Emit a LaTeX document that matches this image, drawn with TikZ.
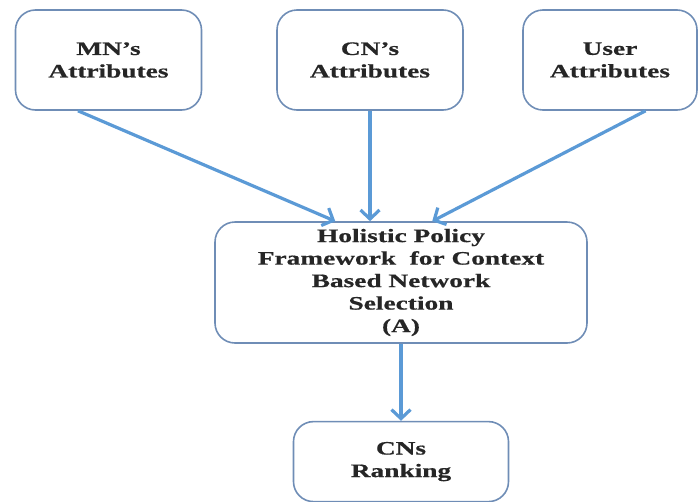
\documentclass[tikz,border=0pt]{standalone}
\usepackage{fontspec}
\setmainfont[FakeStretch=1.44, FakeBold=0.6]{Liberation Serif}
\usepackage{tikz}
\usetikzlibrary{arrows.meta}
\usetikzlibrary{positioning}
\definecolor{boxline}{HTML}{6F8DB6}
\definecolor{arrowblue}{HTML}{5B9AD6}
\definecolor{textdark}{HTML}{262626}
\tikzset{
  base/.style={draw=boxline, line width=1.6pt, rounded corners=20pt, align=center,
    text=textdark, font={\fontsize{19}{22.5}\selectfont\bfseries}},
  attr/.style={base, minimum width=186pt, minimum height=100pt},
  frame/.style={base, minimum width=372pt, minimum height=121pt},
  rank/.style={base, minimum width=215pt, minimum height=80pt},
  % ----------------------------------------------------------------------------
  % Connector line style
  feed/.style={-{Straight Barb[length=9pt, width=19pt, line width=3.2pt]}, draw=arrowblue, line width=3.2pt}
}

\begin{document}
\begin{tikzpicture}[x=1pt, y=-1pt]
\useasboundingbox (0,0) rectangle (698,501);

% -------------------------------------------------
% Top row of attribute boxes
\node [attr] (mn) at (108.5,60) {MN's\\Attributes};
\node [attr] (cn) at (370,60) {CN's\\Attributes};
\node [attr, minimum width=174pt] (user) at (610,60) {User\\Attributes};

% -------------------------------------------------
% Framework and ranking
\node [frame] (policy) at (401,282.5) {
    Holistic Policy\\
    Framework~~for Context\\
    Based Network\\
    Selection\\
    (A)
};
\node [rank, below=77pt of policy] (ranking) {CNs\\Ranking};

\draw [feed] (mn.-121) -- (policy.137);
\draw [feed] (cn.south) -- (cn.south |- policy.north);
\draw [feed] (user.-55) -- (policy.63);
\draw [feed] (policy.south) -- (ranking.north);

\end{tikzpicture}
\end{document}
